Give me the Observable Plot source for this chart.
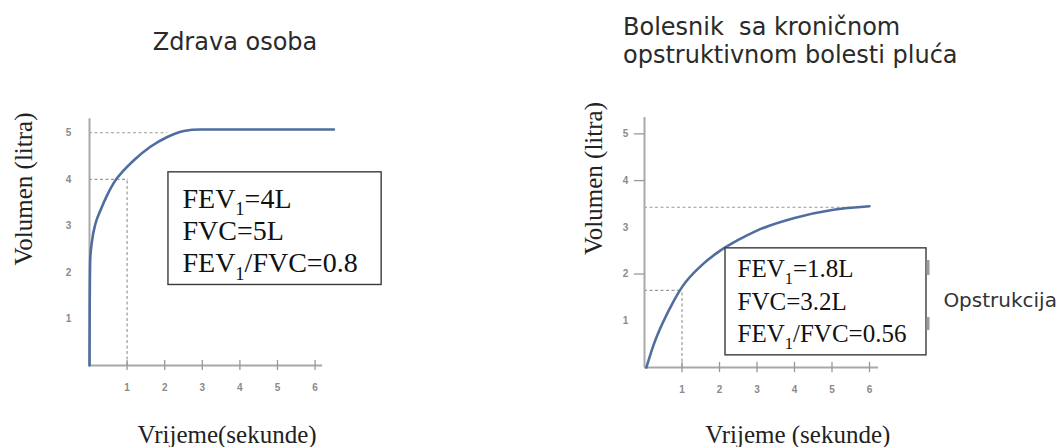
<!DOCTYPE html>
<html><head><meta charset="utf-8">
<script src="https://cdn.jsdelivr.net/npm/d3@7"></script>
<script src="https://cdn.jsdelivr.net/npm/@observablehq/plot@0.6"></script>
<style>
body{margin:0;background:#fff;width:1063px;height:447px;overflow:hidden;position:relative;font-family:"DejaVu Sans",sans-serif;}
#left{position:absolute;left:0;top:0;width:530px;}
#right{position:absolute;left:530px;top:0;width:533px;}
.title{position:absolute;color:#2a2a2a;font-size:24px;white-space:pre;z-index:2;font-family:"DejaVu Sans",sans-serif;}
</style></head><body>
<div id="left"></div><div id="right"></div>
<div class="title" id="t1" style="left:235px;top:30px;line-height:24px;transform:translateX(-50%)"></div>
<div class="title" id="t2" style="left:623px;top:13px;line-height:28px"></div>
<script>
// ---- data ----
const xTicks = [1, 2, 3, 4, 5, 6];
const yTicks = [1, 2, 3, 4, 5];

const leftTitle = "Zdrava osoba";
const rightTitle = ["Bolesnik  sa kroničnom", "opstruktivnom bolesti pluća"];
const yAxisLabel = "Volumen (litra)";
const leftXLabel = "Vrijeme(sekunde)";
const rightXLabel = "Vrijeme (sekunde)";

// healthy person curve (time s, volume L)
const healthyTime   = [0, 0.005, 0.02, 0.07, 0.16, 0.29, 0.47, 0.65, 0.91, 1.18, 1.62, 2.07, 2.51, 2.95, 4.0, 5.0, 6.5];
const healthyVolume = [0, 1.2, 2.3, 2.69, 3.05, 3.33, 3.66, 3.93, 4.19, 4.41, 4.7, 4.91, 5.04, 5.07, 5.07, 5.07, 5.07];
const healthyLevels = [5, 4];
const healthyLevelEnds = [2.07, 1.04];
const healthyFev1Time = 1, healthyFev1 = 4;
const healthyLines = ["FEV1=4L", "FVC=5L", "FEV1/FVC=0.8"];
const healthyBox = {x1: 2.1, x2: 7.77, y1: 1.73, y2: 4.15};

// COPD patient curve
const copdTime   = [0.05, 0.25, 0.5, 0.75, 1.0, 1.5, 2.0, 2.5, 3.0, 4.0, 5.0, 6.0];
const copdVolume = [0, 0.5, 0.98, 1.38, 1.72, 2.17, 2.49, 2.73, 2.93, 3.2, 3.37, 3.45];
const copdLevels = [3.43, 1.65];
const copdLevelEnds = [5.5, 1.02];
const copdFev1Time = 1, copdFev1 = 1.65;
const copdLines = ["FEV1=1.8L", "FVC=3.2L", "FEV1/FVC=0.56"];
const copdBox = {x1: 2.16, x2: 7.52, y1: 0.26, y2: 2.55};
const copdYTickMarks = [2, 4, 5];
const bracketX = 7.56;
const bracketTops = [2.29, 1.07];
const bracketBottoms = [1.97, 0.79];
const obstructionLabel = "Opstrukcija";
const obstructionPos = [7.97, 1.285];

// ---- drawing ----
const dash = {stroke: "#9a9a9a", strokeWidth: 1.2, strokeDasharray: "3,2.5"};
const axisStyle = {stroke: "#a8a8a8", strokeWidth: 2};

function panel(o) {
  const marks = [
    Plot.ruleY(o.levels.map((v, i) => ({v, t: o.levelEnds[i]})), {y: "v", x1: 0, x2: "t", ...dash}),
    Plot.ruleX([{t: o.fevT, v: o.fevV}], {x: "t", y1: 0, y2: "v", ...dash}),
    Plot.ruleX([0], {y1: 0, y2: o.axisTop, ...axisStyle}),
    Plot.ruleY([0], {x1: 0, x2: o.axisRight, ...axisStyle}),
    Plot.ruleX(xTicks, {y1: -0.11, y2: 0.11, stroke: "#999", strokeWidth: 1.3}),
    Plot.text(xTicks, {x: d => d, y: 0, dy: 22, text: d => String(d), fontSize: 10, fill: "#8a8a8a", fontFamily: "Liberation Sans", fontWeight: "bold"}),
    Plot.text(yTicks, {x: 0, y: d => d, dx: o.yLabelDx, text: d => String(d), fontSize: 10, fill: "#8a8a8a", fontFamily: "Liberation Sans", fontWeight: "bold"}),
    Plot.line(o.time.map((t, i) => ({t, v: o.volume[i]})), {x: "t", y: "v", stroke: "#4f6d9f", strokeWidth: 2.6, curve: "monotone-x"}),
    Plot.rect([o.box], {x1: "x1", x2: "x2", y1: "y1", y2: "y2", fill: "white", stroke: "#3a3a3a", strokeWidth: 1.4}),
    Plot.text([o.lines.join("\n")], {x: o.box.x1, y: o.box.y1, dx: o.textDx, dy: -13, textAnchor: "start", lineAnchor: "bottom", lineHeight: o.lh, fontSize: o.fs, fontFamily: "Liberation Serif", fill: "#111"}),
    Plot.text([yAxisLabel], {frameAnchor: "left", rotate: -90, dx: o.ylDx, dy: o.ylDy, fontSize: 25, fontFamily: "Liberation Serif", fill: "#222"}),
    Plot.text([o.xLabel], {frameAnchor: "bottom", dx: o.xlDx, dy: o.xlDy, lineAnchor: "bottom", fontSize: 25, fontFamily: "Liberation Serif", fill: "#222"})
  ];
  if (o.yTickMarks) marks.push(Plot.ruleY(o.yTickMarks, {x1: -0.27, x2: 0, stroke: "#999", strokeWidth: 1.3}));
  if (o.extra) marks.push(...o.extra);
  const svg = Plot.plot({
    width: o.width, height: 447,
    marginLeft: o.ml, marginRight: o.mr, marginTop: o.mt, marginBottom: o.mb,
    x: {domain: [0, 7], axis: null},
    y: {domain: [0, 5.5], axis: null},
    style: {background: "transparent"},
    marks
  });
  // subscript "1" in FEV1
  svg.querySelectorAll("text, tspan").forEach(el => {
    if (el.children.length) return;
    const s = el.textContent;
    const k = s.indexOf("FEV1");
    if (k < 0) return;
    el.textContent = "";
    el.append(document.createTextNode(s.slice(0, k + 3)));
    const ns = "http://www.w3.org/2000/svg";
    const sub = document.createElementNS(ns, "tspan");
    sub.setAttribute("font-size", o.fs * 0.66);
    sub.setAttribute("dy", o.fs * 0.28);
    sub.textContent = "1";
    const rest = document.createElementNS(ns, "tspan");
    rest.setAttribute("dy", -o.fs * 0.28);
    rest.textContent = s.slice(k + 4);
    el.append(sub, rest);
  });
  return svg;
}

document.getElementById("left").append(panel({
  width: 530, ml: 89, mr: 177.8, mt: 109, mb: 82,
  time: healthyTime, volume: healthyVolume,
  levels: healthyLevels, levelEnds: healthyLevelEnds, fevT: healthyFev1Time, fevV: healthyFev1,
  axisTop: 5.3, axisRight: 6.2, yLabelDx: -21,
  box: healthyBox, lines: healthyLines, fs: 28, lh: 1.15, textDx: 14,
  ylDx: -66, ylDy: 28, xLabel: leftXLabel, xlDx: 6, xlDy: 77
}));

document.getElementById("right").append(panel({
  width: 533, ml: 114, mr: 156.5, mt: 110, mb: 80,
  time: copdTime, volume: copdVolume,
  levels: copdLevels, levelEnds: copdLevelEnds, fevT: copdFev1Time, fevV: copdFev1,
  axisTop: 5.35, axisRight: 6.24, yLabelDx: -19, yTickMarks: copdYTickMarks,
  box: copdBox, lines: copdLines, fs: 25, lh: 1.3, textDx: 12,
  ylDx: -51, ylDy: 16, xLabel: rightXLabel, xlDx: 22, xlDy: 75,
  extra: [
    Plot.ruleX(bracketTops.map((a, i) => ({a, b: bracketBottoms[i]})), {x: bracketX, y1: "a", y2: "b", stroke: "#9c9c9c", strokeWidth: 3}),
    Plot.text([obstructionLabel], {x: obstructionPos[0], y: obstructionPos[1], textAnchor: "start", lineAnchor: "bottom", fontFamily: "DejaVu Sans", fontSize: 20, fill: "#333"})
  ]
}));

document.getElementById("t1").textContent = leftTitle;
document.getElementById("t2").textContent = rightTitle.join("\n");
</script>
</body></html>
